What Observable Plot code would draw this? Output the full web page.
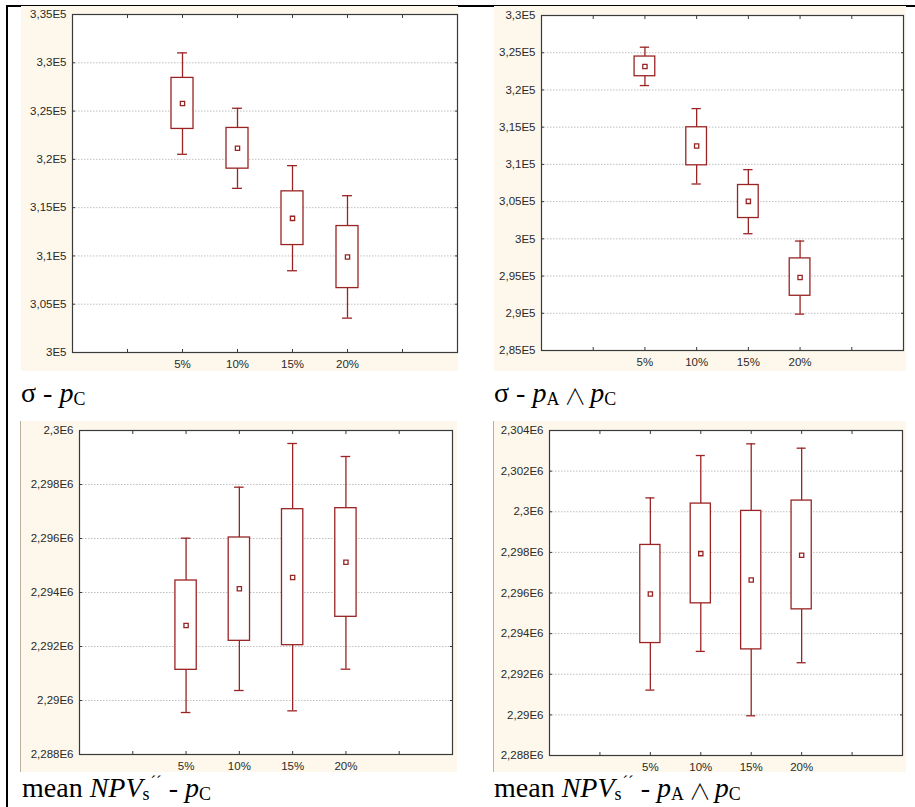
<!DOCTYPE html>
<html>
<head>
<meta charset="utf-8">
<script src="https://cdn.jsdelivr.net/npm/d3@7"></script>
<script src="https://cdn.jsdelivr.net/npm/@observablehq/plot@0.6"></script>
<style>
  html, body { margin: 0; padding: 0; background: #ffffff; }
  #page { position: relative; width: 915px; height: 807px; overflow: hidden; background: #fff; }
  .panel { position: absolute; }
  .panel svg { display: block; }
  .edge { border-left: 1px solid #b9b2a0; }
  .lab { position: absolute; font-family: "Liberation Serif", "Times New Roman", serif; font-size: 28px; line-height: 28px; color: #000; white-space: nowrap; }
  .lab .sub { font-size: 0.64em; position: relative; top: 0.14em; }
  .lab .sup { font-size: 0.6em; position: relative; top: -0.6em; margin-left: 1px; }
  .lab .wedge { font-family: "Noto Sans CJK SC", "DejaVu Sans", sans-serif; font-weight: 300; font-size: 0.78em; line-height: 0; position: relative; top: 0.1em; margin: 0 4px 0 5px; }
  #topline { position: absolute; left: 6px; top: 5px; width: 909px; height: 2px; background: #000; }
  #leftline { position: absolute; left: 6px; top: 5px; width: 2px; height: 802px; background: #000; }
</style>
</head>
<body>
<div id="page">
  <div id="topline"></div>
  <div id="leftline"></div>
</div>
<script>
// ---------- data ----------
const categories = ["5%", "10%", "15%", "20%"];
const xTickSlots = [1, 2, 3, 4, 5, 6];

// Panel A: sigma - pC
const sigmaC_mean    = [325775, 321145, 313890, 309882];
const sigmaC_boxLo   = [323149, 319038, 311126, 306669];
const sigmaC_boxHi   = [328435, 323253, 316688, 313095];
const sigmaC_whiskLo = [320524, 316999, 308466, 303559];
const sigmaC_whiskHi = [331027, 325291, 319349, 316239];
const sigmaC_ticks   = [300000, 305000, 310000, 315000, 320000, 325000, 330000, 335000];
const sigmaC_tickLabels = ["3E5", "3,05E5", "3,1E5", "3,15E5", "3,2E5", "3,25E5", "3,3E5", "3,35E5"];

// Panel B: sigma - pA ∧ pC
const sigmaAC_mean    = [323143, 312475, 305035, 294816];
const sigmaAC_boxLo   = [321843, 309876, 302794, 292351];
const sigmaAC_boxHi   = [324487, 314985, 307231, 297371];
const sigmaAC_whiskLo = [320588, 307366, 300688, 289886];
const sigmaAC_whiskHi = [325742, 317495, 309293, 299702];
const sigmaAC_ticks   = [285000, 290000, 295000, 300000, 305000, 310000, 315000, 320000, 325000, 330000];
const sigmaAC_tickLabels = ["2,85E5", "2,9E5", "2,95E5", "3E5", "3,05E5", "3,1E5", "3,15E5", "3,2E5", "3,25E5", "3,3E5"];

// Panel C: mean NPV - pC
const npvC_mean    = [2292778, 2294136, 2294555, 2295123];
const npvC_boxLo   = [2291136, 2292210, 2292049, 2293099];
const npvC_boxHi   = [2294444, 2296037, 2297086, 2297123];
const npvC_whiskLo = [2289555, 2290370, 2289617, 2291160];
const npvC_whiskHi = [2296012, 2297901, 2299519, 2299037];
const npvC_ticks   = [2288000, 2290000, 2292000, 2294000, 2296000, 2298000, 2300000];
const npvC_tickLabels = ["2,288E6", "2,29E6", "2,292E6", "2,294E6", "2,296E6", "2,298E6", "2,3E6"];

// Panel D: mean NPV - pA ∧ pC
const npvAC_mean    = [2295951, 2297938, 2296641, 2297856];
const npvAC_boxLo   = [2293536, 2295491, 2293224, 2295195];
const npvAC_boxHi   = [2298366, 2300402, 2300041, 2300550];
const npvAC_whiskLo = [2291220, 2293125, 2289955, 2292567];
const npvAC_whiskHi = [2300682, 2302768, 2303343, 2303129];
const npvAC_ticks   = [2288000, 2290000, 2292000, 2294000, 2296000, 2298000, 2300000, 2302000, 2304000];
const npvAC_tickLabels = ["2,288E6", "2,29E6", "2,292E6", "2,294E6", "2,296E6", "2,298E6", "2,3E6", "2,302E6", "2,304E6"];

// ---------- layout ----------
const RED = "#9a2424";
const BEIGE = "#fdf8eb";

function rowsFrom(mean, bLo, bHi, wLo, wHi) {
  return categories.map((c, i) => ({
    cat: c, pos: i + 2, mean: mean[i], blo: bLo[i], bhi: bHi[i], wlo: wLo[i], whi: wHi[i]
  }));
}

const panels = [
  { rows: rowsFrom(sigmaC_mean, sigmaC_boxLo, sigmaC_boxHi, sigmaC_whiskLo, sigmaC_whiskHi),
    ticks: sigmaC_ticks, labels: sigmaC_tickLabels,
    left: 21, top: 6, width: 437, height: 365, mL: 51, mR: 1, mT: 8, mB: 19, edge: false },
  { rows: rowsFrom(sigmaAC_mean, sigmaAC_boxLo, sigmaAC_boxHi, sigmaAC_whiskLo, sigmaAC_whiskHi),
    ticks: sigmaAC_ticks, labels: sigmaAC_tickLabels,
    left: 494, top: 6, width: 412, height: 365, mL: 47, mR: 3, mT: 9, mB: 21, edge: false },
  { rows: rowsFrom(npvC_mean, npvC_boxLo, npvC_boxHi, npvC_whiskLo, npvC_whiskHi),
    ticks: npvC_ticks, labels: npvC_tickLabels,
    left: 21, top: 421, width: 436, height: 351, mL: 58, mR: 5, mT: 9, mB: 18, edge: true },
  { rows: rowsFrom(npvAC_mean, npvAC_boxLo, npvAC_boxHi, npvAC_whiskLo, npvAC_whiskHi),
    ticks: npvAC_ticks, labels: npvAC_tickLabels,
    left: 494, top: 421, width: 412, height: 351, mL: 55, mR: 4, mT: 9, mB: 17, edge: true }
];

function makePanel(p) {
  const ticks = p.ticks;
  return Plot.plot({
    width: p.width,
    height: p.height,
    marginLeft: p.mL, marginRight: p.mR, marginTop: p.mT, marginBottom: p.mB,
    style: { background: BEIGE, fontFamily: "'Liberation Sans', Arial, sans-serif", fontSize: "11.5px", color: "#2a2a2a", overflow: "visible" },
    x: { domain: [0, xTickSlots.length + 1], label: null },
    y: { domain: [ticks[0], ticks[ticks.length - 1]], label: null },
    marks: [
      Plot.frame({ fill: "white", stroke: null }),
      Plot.gridY({ ticks, stroke: "#8c8c8c", strokeOpacity: 0.55, strokeDasharray: "1.5,1.5" }),
      Plot.ruleX(p.rows, { x: "pos", y1: "wlo", y2: "whi", stroke: RED, strokeWidth: 1.3 }),
      Plot.ruleY(p.rows, { y: "whi", x1: d => d.pos - 0.09, x2: d => d.pos + 0.09, stroke: RED, strokeWidth: 1.3 }),
      Plot.ruleY(p.rows, { y: "wlo", x1: d => d.pos - 0.09, x2: d => d.pos + 0.09, stroke: RED, strokeWidth: 1.3 }),
      Plot.rect(p.rows, { x1: d => d.pos - 0.2, x2: d => d.pos + 0.2, y1: "blo", y2: "bhi", fill: "white", stroke: RED, strokeWidth: 1.3 }),
      Plot.dot(p.rows, { x: "pos", y: "mean", symbol: "square", r: 2.4, fill: "white", stroke: RED, strokeWidth: 1.3 }),
      Plot.frame({ stroke: "#3a3a3a", strokeWidth: 1.2 }),
      Plot.axisY({ anchor: "left", ticks, tickSize: 0, tickPadding: 6, tickFormat: (d, i) => p.labels[ticks.indexOf(d)] }),
      Plot.axisY({ anchor: "left", ticks, tickSize: -3, tickFormat: () => "", stroke: "#3a3a3a" }),
      Plot.axisY({ anchor: "right", ticks, tickSize: -3, tickFormat: () => "", stroke: "#3a3a3a" }),
      Plot.axisX({ anchor: "bottom", ticks: p.rows.map(r => r.pos), tickSize: 0, tickPadding: 7, tickFormat: d => categories[d - 2] }),
      Plot.axisX({ anchor: "bottom", ticks: xTickSlots, tickSize: -3, tickFormat: () => "", stroke: "#3a3a3a" }),
      Plot.axisX({ anchor: "top", ticks: xTickSlots, tickSize: -3, tickFormat: () => "", stroke: "#3a3a3a" })
    ]
  });
}

const page = document.getElementById("page");
for (const p of panels) {
  const div = document.createElement("div");
  div.className = "panel" + (p.edge ? " edge" : "");
  div.style.left = (p.edge ? p.left - 1 : p.left) + "px";
  div.style.top = p.top + "px";
  div.appendChild(makePanel(p));
  page.appendChild(div);
}

// ---------- panel captions ----------
const captions = [
  { left: 21, top: 379, html: 'σ - <i>p</i><span class="sub">C</span>' },
  { left: 494, top: 379, html: 'σ - <i>p</i><span class="sub">A</span><span class="wedge">∧</span><i>p</i><span class="sub">C</span>' },
  { left: 22, top: 774, html: 'mean <i>NPV</i><span class="sub">s</span><span class="sup">´´</span> - <i>p</i><span class="sub">C</span>' },
  { left: 494, top: 774, html: 'mean <i>NPV</i><span class="sub">s</span><span class="sup">´´</span> - <i>p</i><span class="sub">A</span><span class="wedge">∧</span><i>p</i><span class="sub">C</span>' }
];
for (const c of captions) {
  const d = document.createElement("div");
  d.className = "lab";
  d.style.left = c.left + "px";
  d.style.top = c.top + "px";
  d.innerHTML = c.html;
  page.appendChild(d);
}
</script>
</body>
</html>
